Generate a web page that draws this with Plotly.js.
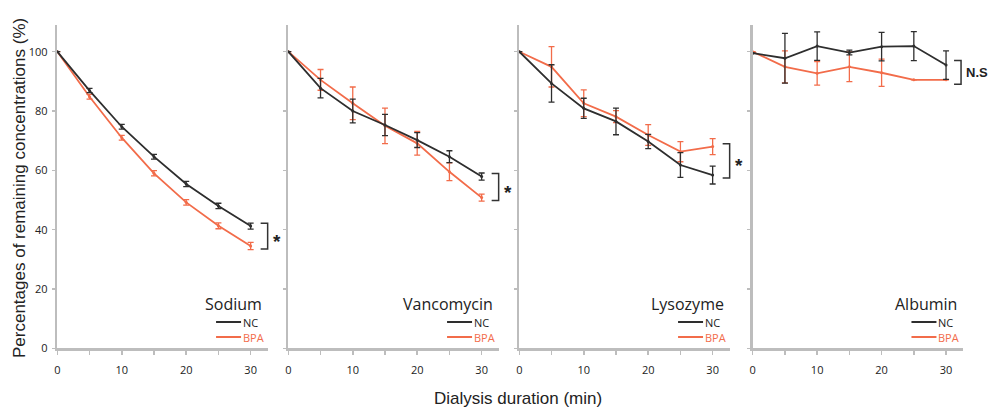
<!DOCTYPE html>
<html>
<head>
<meta charset="utf-8">
<script src="https://cdn.plot.ly/plotly-3.0.1.min.js"></script>
<style>html,body{margin:0;padding:0;background:#fff;}#chart{width:990px;height:408px;}</style>
</head>
<body>
<div id="chart"></div>
<script>
// ---- data ----
const minutes = [0, 5, 10, 15, 20, 25, 30];
const panelNames = ["Sodium", "Vancomycin", "Lysozyme", "Albumin"];
const seriesNames = ["NC", "BPA"];

const sodiumNC = [100, 86.9, 74.7, 64.6, 55.4, 48.0, 41.2];
const sodiumNCErr = [0, 0.7, 0.8, 0.8, 0.9, 0.9, 1.0];
const sodiumBPA = [100, 84.8, 71.0, 59.0, 49.2, 41.3, 34.5];
const sodiumBPAErr = [0, 0.8, 0.8, 0.9, 0.9, 1.0, 1.2];

const vancoNC = [100, 87.7, 80.0, 75.3, 70.2, 64.6, 57.9];
const vancoNCErr = [0, 3.3, 4.0, 3.6, 2.5, 2.0, 1.2];
const vancoBPA = [100, 90.5, 82.6, 75.0, 69.1, 59.5, 50.8];
const vancoBPAErr = [0, 3.5, 5.5, 6.0, 4.0, 3.0, 1.2];

const lysoNC = [100, 89.3, 80.9, 76.5, 69.7, 61.8, 58.4];
const lysoNCErr = [0, 6.3, 3.4, 4.5, 2.4, 4.2, 3.0];
const lysoBPA = [100, 94.9, 82.6, 78.1, 71.9, 66.3, 68.0];
const lysoBPAErr = [0, 6.8, 4.5, 2.0, 3.5, 3.4, 2.7];

const albNC = [99.5, 97.8, 101.9, 99.7, 101.7, 101.9, 95.5];
const albNCErr = [0, 8.4, 4.8, 0.8, 4.8, 4.9, 4.8];
const albBPA = [100, 94.9, 92.7, 94.9, 92.9, 90.5, 90.5];
const albBPAErr = [0, 5.4, 4.0, 5.0, 4.6, 0, 0];

const significance = ["*", "*", "*", "N.S"];

const xTickVals = [0, 5, 10, 15, 20, 25, 30];
const xTickText = ["0", "", "10", "", "20", "", "30"];
const yTickVals = [0, 20, 40, 60, 80, 100];
const yTickText = ["0", "20", "40", "60", "80", "100"];

const yTitle = "Percentages of remaining concentrations (%)";
const xTitle = "Dialysis duration (min)";

// ---- styling / geometry ----
const W = 990, H = 408;
const NC_COLOR = "#2e2e2e";
const BPA_COLOR = "#f26c4a";
const AXIS_COLOR = "#bdbdbd";
const XMAX = 32.7, YMAX = 109;
const pxPerX = 6.445;
const panelLeft = [57.3, 288.3, 519.3, 752.7];
const yBottomPx = 348.3, yTopPx = 25;

const ncData = [[sodiumNC, sodiumNCErr], [vancoNC, vancoNCErr], [lysoNC, lysoNCErr], [albNC, albNCErr]];
const bpaData = [[sodiumBPA, sodiumBPAErr], [vancoBPA, vancoBPAErr], [lysoBPA, lysoBPAErr], [albBPA, albBPAErr]];

const px = v => v / W;
const py = v => 1 - v / H;
const yValToPx = v => yBottomPx - v / YMAX * (yBottomPx - yTopPx);

const traces = [];
const layout = {
  width: W, height: H,
  margin: {l: 0, r: 0, t: 0, b: 0},
  paper_bgcolor: "#fff", plot_bgcolor: "#fff",
  showlegend: false,
  font: {family: "Open Sans, sans-serif", color: "#222"},
  annotations: [], shapes: []
};

for (let i = 0; i < 4; i++) {
  const sfx = i === 0 ? "" : String(i + 1);
  const xa = "x" + sfx, ya = "y" + sfx;
  const [bv, be] = bpaData[i];
  const [nv, ne] = ncData[i];
  const mk = (vals, errs, color, name) => ({
    x: minutes, y: vals, name: name, xaxis: xa, yaxis: ya,
    type: "scatter", mode: "lines+markers",
    line: {color: color, width: 1.8},
    marker: {color: color, size: 3},
    error_y: {type: "data", array: errs, visible: true, color: color, thickness: 1.3, width: 3},
    hoverinfo: "skip", cliponaxis: false
  });
  traces.push(mk(bv, be, BPA_COLOR, seriesNames[1]));
  traces.push(mk(nv, ne, NC_COLOR, seriesNames[0]));

  const L = panelLeft[i], R = L + XMAX * pxPerX;
  layout["xaxis" + sfx] = {
    domain: [px(L), px(R)], range: [0, XMAX], anchor: ya,
    showline: true, linecolor: AXIS_COLOR, linewidth: 2.5,
    ticks: "outside", ticklen: 4, tickwidth: 1.5, tickcolor: AXIS_COLOR,
    tickvals: xTickVals, ticktext: xTickText, ticklabelstandoff: 6,
    tickfont: {size: 11, color: "#222", family: "Open Sans, sans-serif"},
    showgrid: false, zeroline: false, fixedrange: true
  };
  layout["yaxis" + sfx] = {
    domain: [py(yBottomPx), py(yTopPx)], range: [0, YMAX], anchor: xa,
    showline: true, linecolor: AXIS_COLOR, linewidth: 2.5,
    ticks: "outside", ticklen: 3, tickwidth: 1.5, tickcolor: AXIS_COLOR,
    tickvals: yTickVals, ticktext: yTickText, showticklabels: i === 0,
    ticklabelstandoff: 2,
    tickfont: {size: 11, color: "#222", family: "Open Sans, sans-serif"},
    showgrid: false, zeroline: false, fixedrange: true
  };

  // legend block (panel name + series keys)
  layout.annotations.push({
    xref: "paper", yref: "paper", x: px(R - 5), y: py(304), xanchor: "right", yanchor: "middle",
    text: panelNames[i], showarrow: false, borderpad: 0,
    font: {size: 16, color: "#222", family: "Open Sans, sans-serif"}
  });
  const keys = [[seriesNames[0], NC_COLOR, 322], [seriesNames[1], BPA_COLOR, 337]];
  keys.forEach(([nm, col, yp]) => {
    layout.shapes.push({type: "line", xref: "paper", yref: "paper",
      x0: px(R - 52), x1: px(R - 27), y0: py(yp), y1: py(yp), line: {color: col, width: 2}});
    layout.annotations.push({xref: "paper", yref: "paper", x: px(R - 26), y: py(yp),
      xanchor: "left", yanchor: "middle", text: nm, showarrow: false, borderpad: 0,
      font: {size: 11, color: nm === seriesNames[1] ? BPA_COLOR : "#222", family: "Open Sans, sans-serif"}});
  });

  // significance bracket
  const last = minutes.length - 1;
  const hi = Math.max(nv[last], bv[last]) + (i === 3 ? 1.5 : 1);
  const lo = Math.min(nv[last], bv[last]) - (i === 3 ? 1.5 : 1);
  const x30 = L + minutes[last] * pxPerX;
  const bx = x30 + (i === 3 ? 15 : 17);
  const yh = yValToPx(hi), yl = yValToPx(lo);
  layout.shapes.push({type: "path", xref: "paper", yref: "paper",
    path: `M ${px(bx - 7)} ${py(yh)} L ${px(bx)} ${py(yh)} L ${px(bx)} ${py(yl)} L ${px(bx - 7)} ${py(yl)}`,
    line: {color: "#333", width: 1.5}});
  const isStar = significance[i] === "*";
  layout.annotations.push({xref: "paper", yref: "paper", x: px(bx + 3), y: py((yh + yl) / 2),
    xanchor: "left", yanchor: "middle", text: "<b>" + significance[i] + "</b>",
    yshift: isStar ? -5 : 0, showarrow: false,
    font: {size: isStar ? 19 : 13, color: "#222", family: "Liberation Sans, Arial, sans-serif"}});
}

// axis titles
layout.annotations.push({xref: "paper", yref: "paper", x: px(20), y: py(188), xanchor: "center", yanchor: "middle",
  text: yTitle, textangle: -90, showarrow: false, font: {size: 17, color: "#222", family: "Liberation Sans, Arial, sans-serif"}});
layout.annotations.push({xref: "paper", yref: "paper", x: px(518), y: py(398), xanchor: "center", yanchor: "middle",
  text: xTitle, showarrow: false, font: {size: 17, color: "#222", family: "Liberation Sans, Arial, sans-serif"}});

Plotly.newPlot("chart", traces, layout, {displayModeBar: false, staticPlot: true});
</script>
</body>
</html>
